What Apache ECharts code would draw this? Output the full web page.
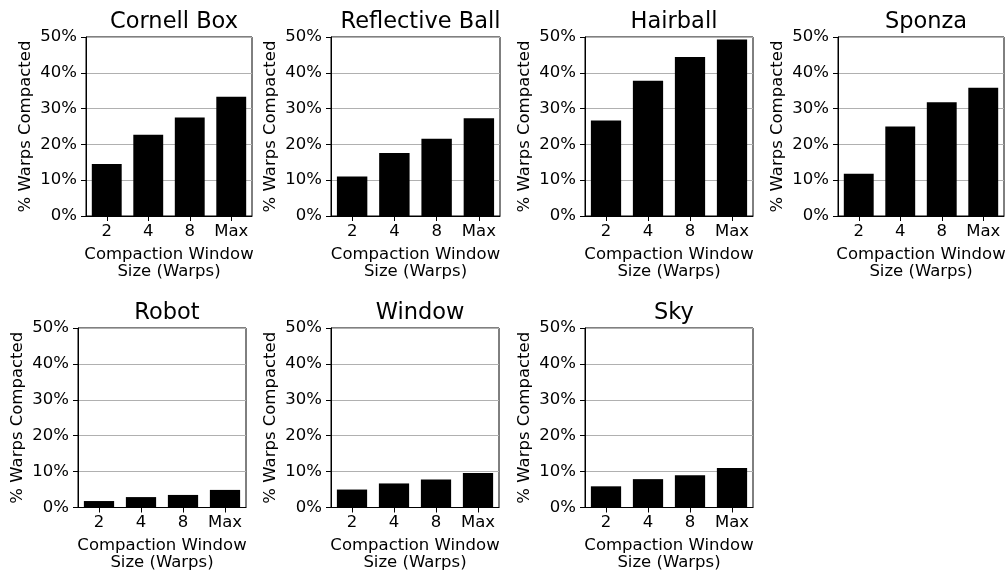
<!DOCTYPE html>
<html>
<head>
<meta charset="utf-8">
<script src="https://cdn.jsdelivr.net/npm/echarts@6/dist/echarts.min.js"></script>
<style>html,body{margin:0;padding:0;background:#fff}#c{width:1008px;height:574px}</style>
</head>
<body>
<div id="c"></div>
<script>
// ---- data ----
const categories = ['2', '4', '8', 'Max'];
const panelTitles = ['Cornell Box', 'Reflective Ball', 'Hairball', 'Sponza', 'Robot', 'Window', 'Sky'];
const cornellBox = [14.5, 22.7, 27.5, 33.3];
const reflectiveBall = [11.0, 17.6, 21.6, 27.3];
const hairball = [26.7, 37.8, 44.4, 49.3];
const sponza = [11.8, 25.0, 31.8, 35.8];
const robot = [1.8, 2.9, 3.5, 4.9];
const windowScene = [5.0, 6.7, 7.8, 9.6];
const sky = [5.9, 7.9, 9.0, 11.0];
const yMin = 0, yMax = 50, yStep = 10;
const yLabel = '% Warps Compacted';
const xLabel = 'Compaction Window\nSize (Warps)';

const seriesData = [cornellBox, reflectiveBall, hairball, sponza, robot, windowScene, sky];

// ---- layout (pixel boxes of each plot area) ----
const boxes = [
  {l: 86, r: 252, t: 37, b: 216},
  {l: 331, r: 500, t: 37, b: 216},
  {l: 585, r: 753, t: 37, b: 216},
  {l: 838, r: 1004, t: 37, b: 216},
  {l: 78, r: 246, t: 328, b: 507.5},
  {l: 331, r: 499, t: 328, b: 507.5},
  {l: 585, r: 753, t: 328, b: 507.5}
];

const font = 'DejaVu Sans';
const option = {
  animation: false,
  backgroundColor: '#fff',
  title: [], grid: [], xAxis: [], yAxis: [], series: []
};

boxes.forEach((bx, i) => {
  option.title.push({
    text: panelTitles[i],
    left: (bx.l + bx.r) / 2,
    top: bx.t - 31,
    textAlign: 'center',
    textStyle: {fontFamily: font, fontSize: 22.5, fontWeight: 'normal', color: '#000'}
  });
  option.grid.push({
    left: bx.l, top: bx.t, width: bx.r - bx.l, height: bx.b - bx.t,
    show: true, borderColor: '#000', borderWidth: 1, backgroundColor: 'transparent',
    containLabel: false
  });
  option.xAxis.push({
    type: 'category', gridIndex: i, data: categories,
    name: xLabel, nameLocation: 'middle', nameGap: 30,
    nameTextStyle: {fontFamily: font, fontSize: 16.5, color: '#000', lineHeight: 17, verticalAlign: 'top'},
    axisLine: {lineStyle: {color: '#000', width: 1}},
    axisTick: {show: true, alignWithLabel: true, interval: 0, length: 5, lineStyle: {color: '#000'}},
    axisLabel: {fontFamily: font, fontSize: 16.5, color: '#000', margin: 7, interval: 0},
    splitLine: {show: false}
  });
  option.yAxis.push({
    type: 'value', gridIndex: i, min: yMin, max: yMax, interval: yStep,
    name: yLabel, nameLocation: 'middle', nameGap: 52,
    nameTextStyle: {fontFamily: font, fontSize: 16.5, color: '#000'},
    axisLine: {show: true, lineStyle: {color: '#000', width: 1}},
    axisTick: {show: true, length: 5, lineStyle: {color: '#000'}},
    axisLabel: {fontFamily: font, fontSize: 16.5, color: '#000', margin: 9, formatter: '{value}%'},
    splitLine: {show: true, lineStyle: {color: '#b0b0b0', width: 1}}
  });
  option.series.push({
    type: 'bar', xAxisIndex: i, yAxisIndex: i, data: seriesData[i],
    barWidth: '72%', itemStyle: {color: '#000'}
  });
});

const chart = echarts.init(document.getElementById('c'), null, {renderer: 'canvas'});
chart.setOption(option);
</script>
</body>
</html>
